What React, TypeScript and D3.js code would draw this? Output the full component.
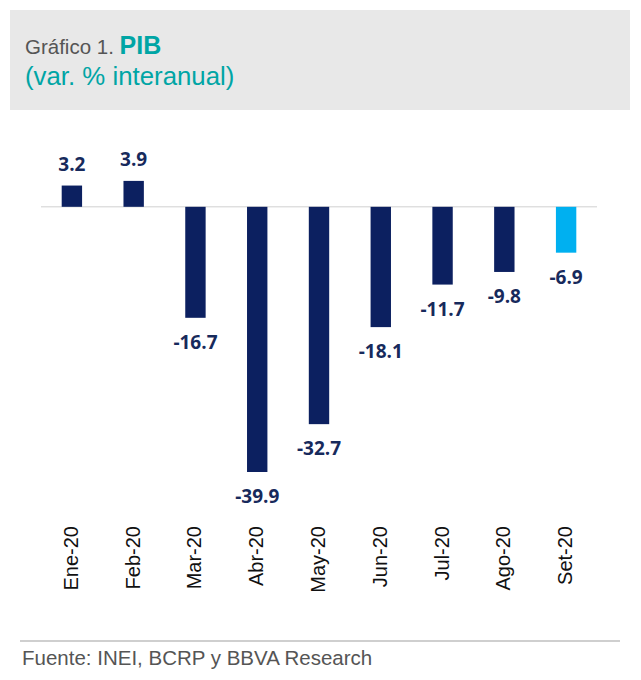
import React from "react";
import * as d3 from "d3";

const categories = ["Ene-20", "Feb-20", "Mar-20", "Abr-20", "May-20", "Jun-20", "Jul-20", "Ago-20", "Set-20"];
const values = [3.2, 3.9, -16.7, -39.9, -32.7, -18.1, -11.7, -9.8, -6.9];
const highlighted = [false, false, false, false, false, false, false, false, true];

const W = 641;
const H = 680;

export default function App() {
  const x = d3.scaleBand<string>().domain(categories).range([41, 597]).paddingInner(0.67).paddingOuter(0.335);
  const y = d3.scaleLinear().domain([-39.9, 3.9]).range([472, 180.9]);
  const y0 = y(0);
  const fmt = (v: number) => d3.format(".1f")(v).replace("\u2212", "-");
  const navy = "#0c2060";
  const light = "#00b0f0";
  const labelColor = "#172a5c";

  return (
    <div style={{ position: "fixed", left: 0, top: 0, width: W, height: H, background: "#fff" }}>
      <svg width={W} height={H} style={{ display: "block" }}>
        <rect x={10} y={10} width={620} height={100} fill="#e8e8e8" />
        <text x={25} y={54} fontFamily="Liberation Sans, Arial, sans-serif" fontSize={20.5} fill="#555">
          Gráfico 1.{" "}
          <tspan fill="#00a5a5" fontWeight="bold" fontSize={25}>PIB</tspan>
        </text>
        <text x={25} y={85} fontFamily="Liberation Sans, Arial, sans-serif" fontSize={25.8} fill="#00a5a5">
          (var. % interanual)
        </text>

        <line x1={41} x2={597} y1={y0} y2={y0} stroke="#d0d0d0" strokeWidth={1} />

        {categories.map((c, i) => {
          const v = values[i];
          const bx = x(c)!;
          const top = Math.min(y(v), y0);
          const h = Math.abs(y(v) - y0);
          const cx = bx + x.bandwidth() / 2;
          return (
            <g key={c}>
              <rect x={bx} y={top} width={x.bandwidth()} height={h} fill={highlighted[i] ? light : navy} />
              <text
                x={cx}
                y={v >= 0 ? y(v) - 15 : y(v) + 31}
                textAnchor="middle"
                fontFamily="Open Sans, Noto Sans, sans-serif"
                fontWeight="bold"
                fontSize={19}
                fill={labelColor}
              >
                {fmt(v)}
              </text>
              <text
                transform={`translate(${cx + 6},526) rotate(-90)`}
                textAnchor="end"
                fontFamily="Liberation Sans, Arial, sans-serif"
                fontSize={20}
                fill="#111"
              >
                {c}
              </text>
            </g>
          );
        })}

        <line x1={20} x2={620} y1={641} y2={641} stroke="#cfcfcf" strokeWidth={2} />
        <text x={22} y={665} fontFamily="Liberation Sans, Arial, sans-serif" fontSize={20.5} fill="#555">
          Fuente: INEI, BCRP y BBVA Research
        </text>
      </svg>
    </div>
  );
}
